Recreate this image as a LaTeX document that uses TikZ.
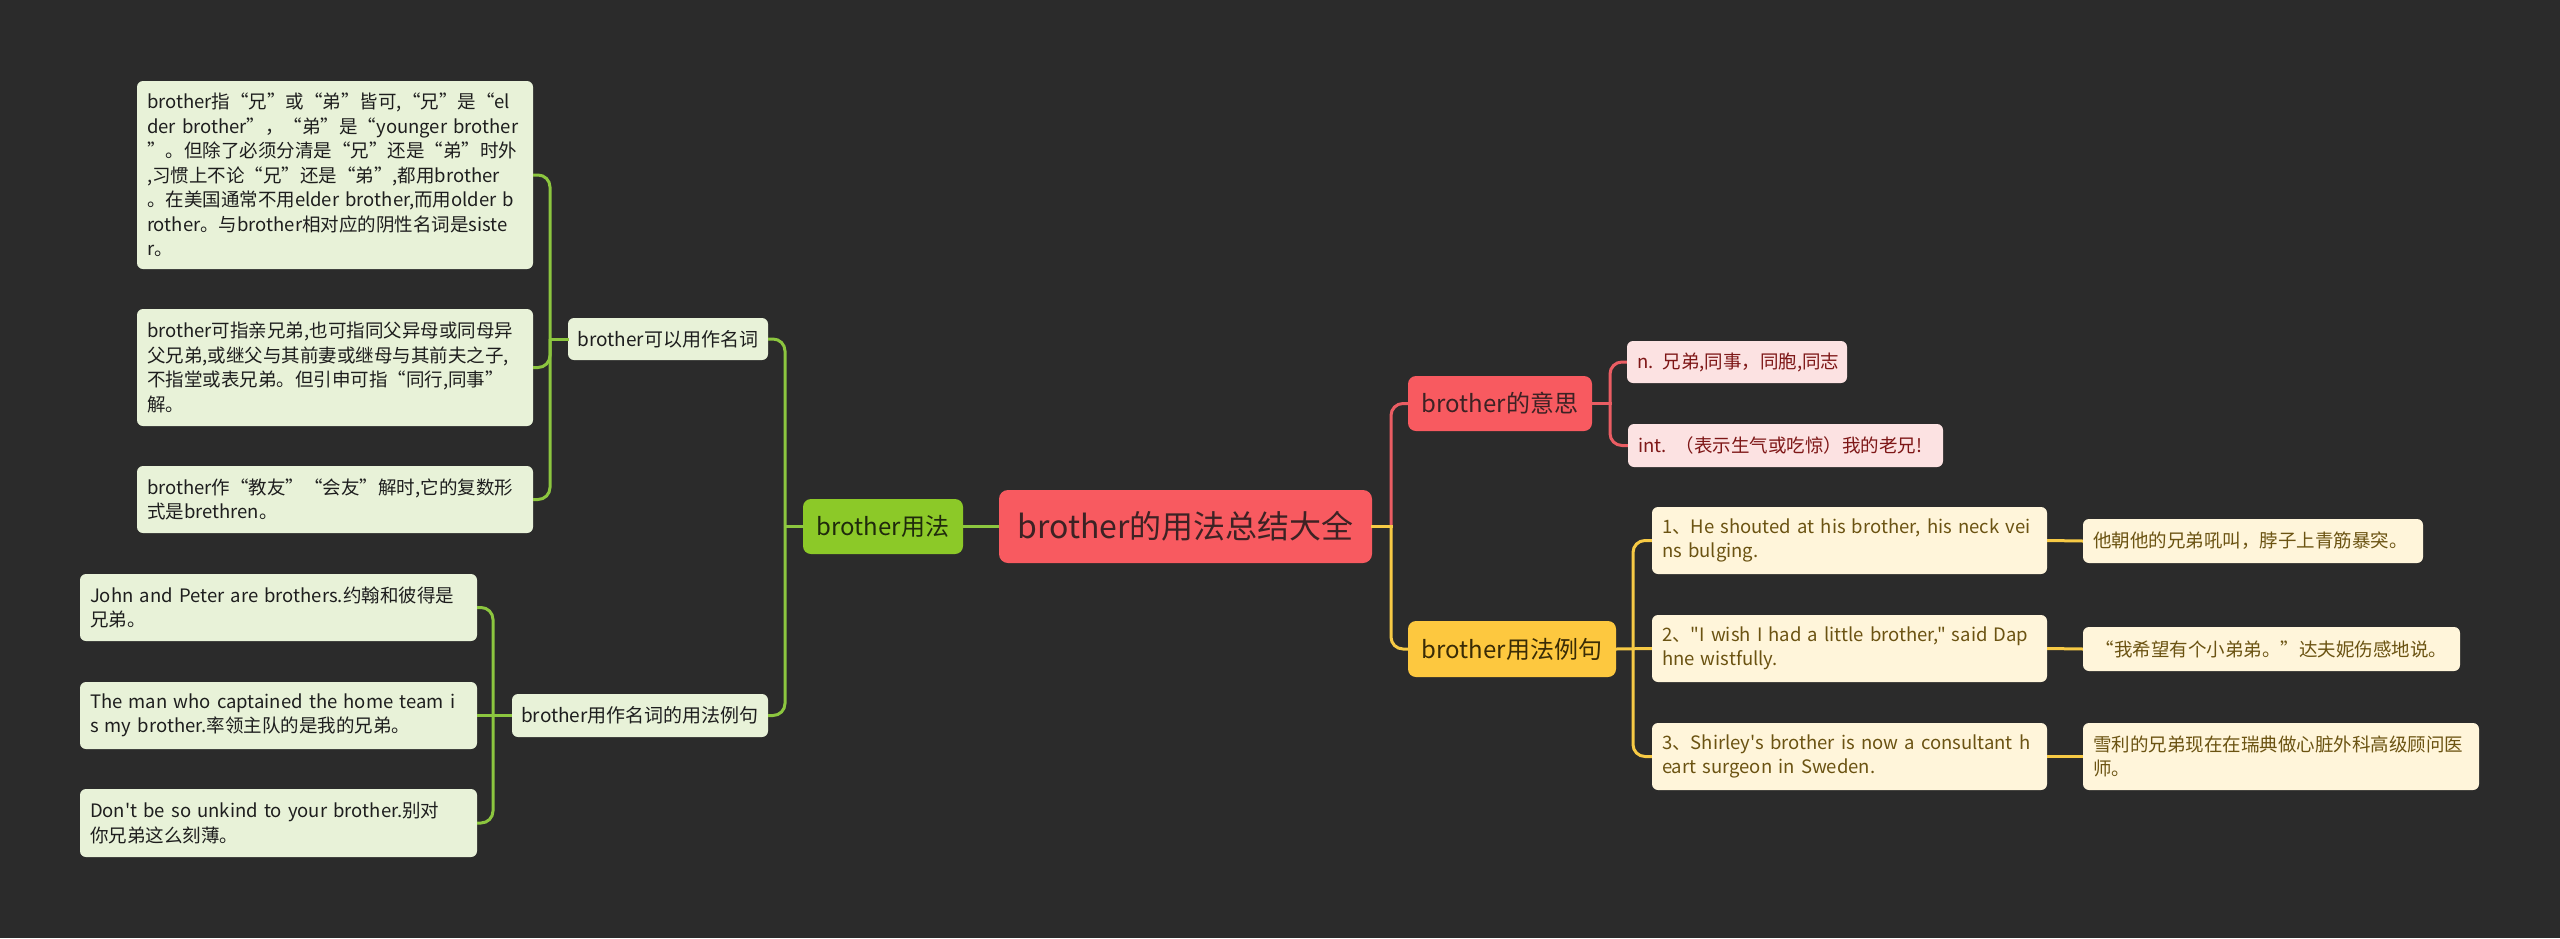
\documentclass[tikz,border=0pt]{standalone}
\usepackage{fontspec}
\setmainfont{Noto Sans CJK SC}[Ligatures=TeXOff]
\newcommand{\myline}[1]{\mbox{#1}}
\definecolor{bgc}{HTML}{2B2B2B}
\definecolor{redc}{HTML}{F85A60}
\definecolor{greenc}{HTML}{8CC928}
\definecolor{yellowc}{HTML}{FDC83F}
\definecolor{lgreenc}{HTML}{E8F2D8}
\definecolor{lredc}{HTML}{FCE2E2}
\definecolor{lyellowc}{HTML}{FFF5DA}
\definecolor{glinec}{HTML}{8CC63F}
\definecolor{rlinec}{HTML}{EA5D63}
\definecolor{ylinec}{HTML}{F7CA45}
\definecolor{darkt}{HTML}{1E1E1E}
\definecolor{roott}{HTML}{3D2224}
\definecolor{redt}{HTML}{7E1717}
\definecolor{yelt}{HTML}{6B5312}
\definecolor{gdt}{HTML}{1F2A0C}
\definecolor{ydt}{HTML}{3A2C06}
\tikzset{
  basebox/.style={rounded corners=6pt, inner ysep=0pt, anchor=center},
  leafbox/.style={basebox, inner xsep=10pt, align=left, font=\fontsize{18.5pt}{24.5pt}\selectfont},
  gleaf/.style={leafbox, fill=lgreenc, text=darkt},
  rleaf/.style={leafbox, fill=lredc, text=redt},
  yleaf/.style={leafbox, fill=lyellowc, text=yelt},
  gmid/.style={basebox, inner xsep=0pt, fill=lgreenc, text=darkt, font=\fontsize{19pt}{24pt}\selectfont},
  topbox/.style={basebox, rounded corners=8pt, inner xsep=0pt, font=\fontsize{24pt}{30pt}\selectfont},
  rootbox/.style={basebox, rounded corners=9pt, inner xsep=0pt, fill=redc, text=roott, font=\fontsize{32pt}{38pt}\selectfont},
  gline/.style={draw=glinec, line width=3pt},
  rline/.style={draw=rlinec, line width=3pt},
  yline/.style={draw=ylinec, line width=3pt},
  roundjoin/.style={rounded corners=12pt},
  stub/.style={line cap=rect}
}
\begin{document}
\begin{tikzpicture}[x=1pt, y=-1pt]
\fill[bgc] (0,0) rectangle (2560,938);
\useasboundingbox (0,0) rectangle (2560,938);

% spines
\coordinate (sL0) at (785,0);
\coordinate (sL1) at (550,0);
\coordinate (sL2) at (493,0);
\coordinate (sR0) at (1391,0);
\coordinate (sR1) at (1610,0);
\coordinate (sR2) at (1633,0);

% root and first level
\node[rootbox, minimum width=373pt, minimum height=73pt] (root) at (1185.5,526.5) {brother的用法总结大全};
\node[topbox, fill=greenc, text=gdt, minimum width=160pt, minimum height=55pt] (use) at (883,526.5) {brother用法};
\node[topbox, fill=redc, text=roott, minimum width=184pt, minimum height=55pt] (mean) at (1500,403.5) {brother的意思};
\node[topbox, fill=yellowc, text=ydt, minimum width=208pt, minimum height=56pt] (exu) at (1512,649) {brother用法例句};

% left second level
\node[gmid, minimum width=200pt, minimum height=42pt] (noun) at (668,339) {brother可以用作名词};
\node[gmid, minimum width=256pt, minimum height=43pt] (exs) at (640,715.5) {brother用作名词的用法例句};

% left leaves
\node[gleaf, text width=376pt, minimum height=188pt] (g1) at (335,175) {\myline{brother指“兄”或“弟”皆可,“兄”是“el}\\\myline{der brother”，“弟”是“younger brother}\\\myline{”。但除了必须分清是“兄”还是“弟”时外}\\\myline{,习惯上不论“兄”还是“弟”,都用brother}\\\myline{。在美国通常不用elder brother,而用older b}\\\myline{rother。与brother相对应的阴性名词是siste}\\\myline{r。}};
\node[gleaf, text width=376pt, minimum height=117pt] (g2) at (335,367.5) {\myline{brother可指亲兄弟,也可指同父异母或同母异}\\\myline{父兄弟,或继父与其前妻或继母与其前夫之子,}\\\myline{不指堂或表兄弟。但引申可指“同行,同事”}\\\myline{解。}};
\node[gleaf, text width=376pt, minimum height=67pt] (g3) at (335,499.5) {\myline{brother作“教友”“会友”解时,它的复数形}\\\myline{式是brethren。}};

\node[gleaf, text width=377pt, minimum height=67pt] (e1) at (278.5,607.5) {\myline{John and Peter are brothers.约翰和彼得是}\\\myline{兄弟。}};
\node[gleaf, text width=377pt, minimum height=67pt] (e2) at (278.5,715.5) {\myline{The man who captained the home team i}\\\myline{s my brother.率领主队的是我的兄弟。}};
\node[gleaf, text width=377pt, minimum height=68pt] (e3) at (278.5,823) {\myline{Don't be so unkind to your brother.别对}\\\myline{你兄弟这么刻薄。}};

% right leaves
\node[rleaf, text width=200pt, minimum height=42pt] (r1) at (1737,362) {\myline{n. 兄弟,同事，同胞,同志}};
\node[rleaf, text width=295pt, minimum height=43pt] (r2) at (1785.5,445.5) {\myline{int. （表示生气或吃惊）我的老兄!}};

\node[yleaf, text width=375pt, minimum height=67pt] (y1) at (1849.5,540.5) {\myline{1、He shouted at his brother, his neck vei}\\\myline{ns bulging.}};
\node[yleaf, text width=375pt, minimum height=67pt] (y2) at (1849.5,648.5) {\myline{2、"I wish I had a little brother," said Dap}\\\myline{hne wistfully.}};
\node[yleaf, text width=375pt, minimum height=67pt] (y3) at (1849.5,756.5) {\myline{3、Shirley's brother is now a consultant h}\\\myline{eart surgeon in Sweden.}};

\node[yleaf, text width=320pt, minimum height=44pt] (t1) at (2253,541) {\myline{他朝他的兄弟吼叫，脖子上青筋暴突。}};
\node[yleaf, align=center, text width=357pt, minimum height=44pt] (t2) at (2271.5,649) {\myline{“我希望有个小弟弟。”达夫妮伤感地说。}};
\node[yleaf, text width=376pt, minimum height=67pt] (t3) at (2281,756.5) {\myline{雪利的兄弟现在在瑞典做心脏外科高级顾问医}\\\myline{师。}};

% connectors: left
\draw[gline] (root.west) -- (use.east);
\draw[gline, stub] (use.west) -- (sL0 |- use.west);
\draw[gline, roundjoin] (sL0 |- use.west) -- (sL0 |- noun.east) -- (noun.east);
\draw[gline, roundjoin] (sL0 |- use.west) -- (sL0 |- exs.east) -- (exs.east);

\draw[gline, stub] (noun.west) -- (sL1 |- noun.west);
\draw[gline, roundjoin] (sL1 |- noun.west) -- (sL1 |- g1.east) -- (g1.east);
\draw[gline, roundjoin] (sL1 |- noun.west) -- (sL1 |- g2.east) -- (g2.east);
\draw[gline, roundjoin] (sL1 |- noun.west) -- (sL1 |- g3.east) -- (g3.east);

\draw[gline] (exs.west) -- (e2.east);
\draw[gline, roundjoin] (sL2 |- exs.west) -- (sL2 |- e1.east) -- (e1.east);
\draw[gline, roundjoin] (sL2 |- exs.west) -- (sL2 |- e3.east) -- (e3.east);

% connectors: right
\draw[rline, roundjoin] (sR0 |- root.east) -- (sR0 |- mean.west) -- (mean.west);
\draw[yline, roundjoin] (sR0 |- root.east) -- (sR0 |- exu.west) -- (exu.west);
\draw[yline, stub] (root.east) -- (sR0 |- root.east);

\draw[rline, stub] (mean.east) -- (sR1 |- mean.east);
\draw[rline, roundjoin] (sR1 |- mean.east) -- (sR1 |- r1.west) -- (r1.west);
\draw[rline, roundjoin] (sR1 |- mean.east) -- (sR1 |- r2.west) -- (r2.west);

\draw[yline] (exu.east) -- (y2.west);
\draw[yline, roundjoin] (sR2 |- exu.east) -- (sR2 |- y1.west) -- (y1.west);
\draw[yline, roundjoin] (sR2 |- exu.east) -- (sR2 |- y3.west) -- (y3.west);

\draw[yline] (y1.east) -- (t1.west);
\draw[yline] (y2.east) -- (t2.west);
\draw[yline] (y3.east) -- (t3.west);
\end{tikzpicture}
\end{document}
